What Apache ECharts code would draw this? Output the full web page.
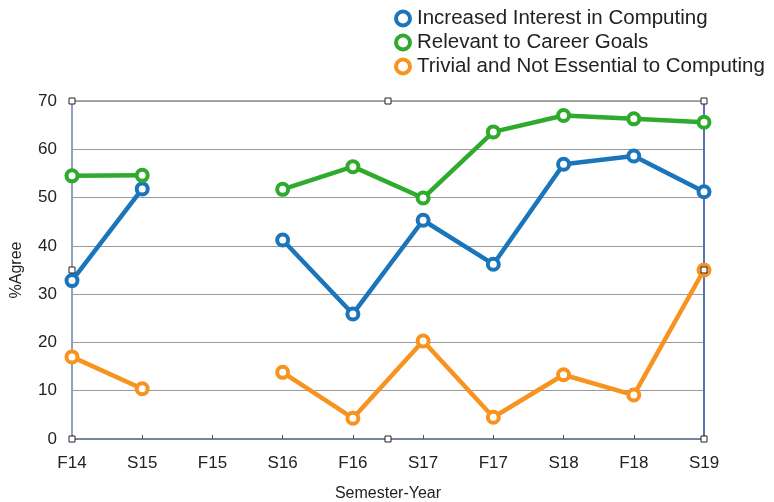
<!DOCTYPE html>
<html><head><meta charset="utf-8">
<script src="https://cdn.jsdelivr.net/npm/echarts@6/dist/echarts.min.js"></script>
<style>html,body{margin:0;padding:0;background:#fff}#c{width:774px;height:502px}</style>
</head><body><div id="c"></div>
<script>
const categories = ['F14','S15','F15','S16','F16','S17','F17','S18','F18','S19'];
const interest = [32.8, 51.8, null, 41.2, 25.9, 45.3, 36.2, 56.9, 58.6, 51.2];
const career = [54.5, 54.6, null, 51.7, 56.4, 49.9, 63.6, 67.0, 66.3, 65.6];
const trivial = [17.0, 10.4, null, 13.8, 4.3, 20.3, 4.5, 13.3, 9.1, 35.0];
const seriesNames = ['Increased Interest in Computing','Relevant to Career Goals','Trivial and Not Essential to Computing'];
const colors = ['#1b75bb','#2eaa2c','#f7931e'];
const font = 'Liberation Sans, Arial, sans-serif';
const G = {left:72, right:70, top:101, bottom:63};
const W = 774, H = 502;
const chart = echarts.init(document.getElementById('c'));
function mk(name, data, color){
  return {name, type:'line', data, connectNulls:false, symbol:'circle', symbolSize:11,
    lineStyle:{width:4.5,color}, itemStyle:{color:'#fff',borderColor:color,borderWidth:4},
    emphasis:{disabled:true}};
}
// selection handles around the plot frame (decoration)
const x0 = G.left, x1 = W - G.right, y0 = G.top, y1 = H - G.bottom;
const xm = (x0 + x1) / 2, ym = (y0 + y1) / 2;
const handlePts = [[x0,y0],[xm,y0],[x1,y0],[x0,ym],[x1,ym],[x0,y1],[xm,y1],[x1,y1]];
const handles = handlePts.map(p => ({type:'rect', z:100,
  shape:{x:p[0]-3, y:p[1]-3, width:6, height:6},
  style:{fill:'#fff', stroke:'#222', lineWidth:1}}));
chart.setOption({
  animation:false,
  color:colors,
  legend:{orient:'vertical', left:389, top:3, itemGap:3, itemWidth:18, itemHeight:14,
    icon:'circle',
    textStyle:{fontFamily:font,fontSize:20.5,color:'#222'},
    data:seriesNames.map((n,i)=>({name:n,itemStyle:{color:'#fff',borderColor:colors[i],borderWidth:4}}))},
  grid:Object.assign({show:true,borderColor:'#555',borderWidth:1,outerBoundsMode:'none',containLabel:false}, G),
  xAxis:{type:'category',data:categories,boundaryGap:false,
    name:'Semester-Year',nameLocation:'middle',nameGap:47,
    nameTextStyle:{fontFamily:font,fontSize:16,color:'#222'},
    axisLine:{lineStyle:{color:'#6b7ba6',width:1.5}},
    axisTick:{show:true,inside:true,length:4,lineStyle:{color:'#555'}},
    axisLabel:{fontFamily:font,fontSize:17,color:'#222',margin:16},
    splitLine:{show:false}},
  yAxis:[{type:'value',min:0,max:70,interval:10,
    name:'%Agree',nameLocation:'middle',nameGap:47,
    nameTextStyle:{fontFamily:font,fontSize:16,color:'#222'},
    axisLine:{show:true,lineStyle:{color:'#8a9cc8',width:1.5}},
    axisTick:{show:false},
    axisLabel:{fontFamily:font,fontSize:17,color:'#222',margin:15},
    splitLine:{lineStyle:{color:'#9a9a9a',width:1}}},
    {type:'value',min:0,max:70,interval:10,position:'right',
    axisLine:{show:true,lineStyle:{color:'#3a62b0',width:1.5}},
    axisTick:{show:false},axisLabel:{show:false},splitLine:{show:false}}],
  graphic:handles,
  series:[mk(seriesNames[0],interest,colors[0]),mk(seriesNames[1],career,colors[1]),mk(seriesNames[2],trivial,colors[2])]
});
</script></body></html>
